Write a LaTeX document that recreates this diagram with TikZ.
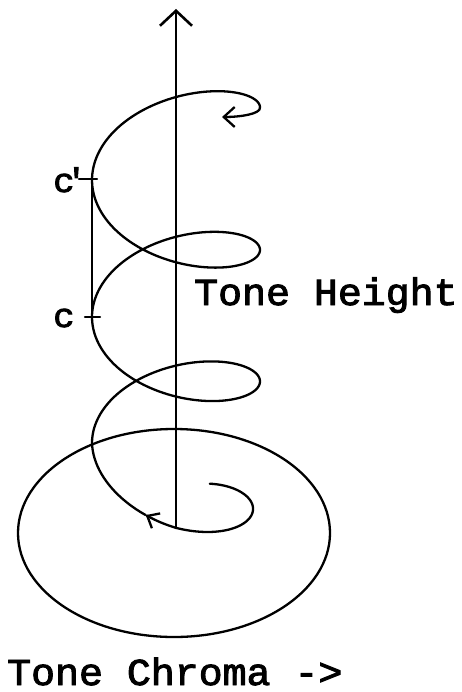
\documentclass[tikz,border=0pt]{standalone}
\usepackage{fontspec}
\newfontfamily\typewriter[FakeStretch=1.05,FakeBold=2.5]{Liberation Mono}
\usetikzlibrary{arrows.meta}

\begin{document}
\begin{tikzpicture}[x=1pt,y=-1pt,
  declare function={spiralr(\t)=84-7*max(0,\t-4*pi)/pi;
                    spiraly(\t)=180+22.68*\t-0.139*\t*\t+6*max(0,\t-4*pi)/pi;
                    spiralb(\t)=47+5*min(1,max(0,(\t-4*pi)/1.571));},
  stroke/.style={line width=2.3pt,line cap=round,line join=round},
  axisline/.style={stroke,line width=2.6pt,-{Straight Barb[length=15pt,width=32pt]}},
  turn/.style={stroke,variable=\t,samples=300,smooth},
  heading/.style={font=\typewriter\fontsize{38}{40}\selectfont,inner sep=0pt,anchor=base west},
  notename/.style={font=\typewriter\fontsize{34}{36}\selectfont,inner sep=0pt,anchor=base west}]
\useasboundingbox (0,0) rectangle (462,692);
\coordinate (base) at (176,528);
\coordinate (top) at (176,9);
\coordinate (cprime) at (92,179);
\coordinate (cnote) at (92,317);
\coordinate (upper) at (260,107.4);
\coordinate (tip) at (222,117);
\draw[axisline] (base) -- (top);
\draw[stroke] (174,533) ellipse [x radius=156pt,y radius=104pt];
\draw[turn,{Straight Barb[length=10pt,width=17pt]}-] plot[domain=13.756:16.81]
  ({176-spiralr(\t)*cos(\t r)},{spiraly(\t)+spiralb(\t)*sin(\t r)});
\draw[turn] plot[domain=-3.1416:13.756]
  ({176-spiralr(\t)*cos(\t r)},{spiraly(\t)+spiralb(\t)*sin(\t r)});
\draw[stroke,-{Straight Barb[length=11pt,width=20pt]}] (upper) .. controls (261,114) and (240,117) .. (tip);
\draw[stroke] (cprime) -- (cnote);
\draw[stroke] ([xshift=-13pt]cprime) -- ([xshift=5pt]cprime);
\draw[stroke] ([xshift=-7pt]cnote) -- ([xshift=8pt]cnote);
\node[notename] (cpname) at (53,192) {c\kern-9pt\char39};
\node[notename] (cname) at (53,327) {c};
\node[heading] (height) at (194,305) {Tone Height};
\node[heading] (chroma) at (7,685) {Tone Chroma ->};
\end{tikzpicture}
\end{document}
